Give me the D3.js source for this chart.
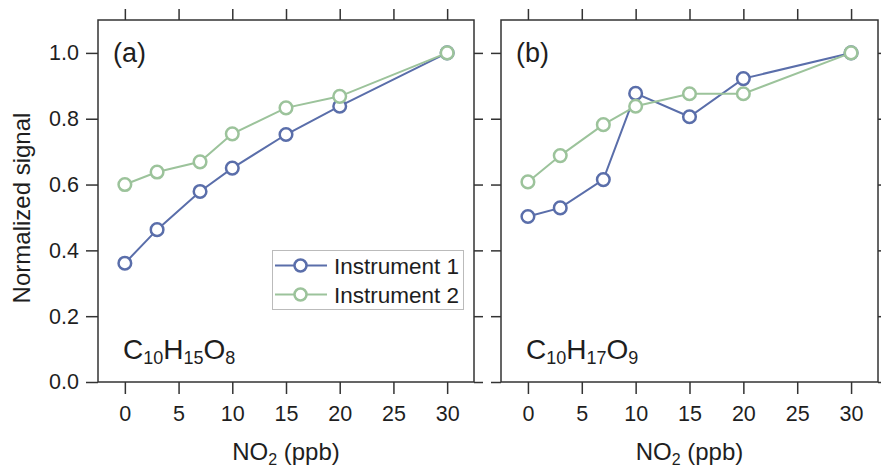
<!DOCTYPE html>
<html><head><meta charset="utf-8">
<script src="https://cdn.jsdelivr.net/npm/d3@7"></script>
<style>body{margin:0;background:#fff}svg{display:block}text{font-family:"Liberation Sans",Arial,sans-serif;fill:#1e1e1e}</style>
</head><body><svg id="c" width="881" height="470"></svg>
<script>
const xValues = [0, 3, 7, 10, 15, 20, 30];
const seriesNames = ["Instrument 1", "Instrument 2"];
const panelA_inst1 = [0.361, 0.463, 0.579, 0.650, 0.752, 0.838, 1.0];
const panelA_inst2 = [0.600, 0.638, 0.669, 0.754, 0.833, 0.868, 1.0];
const panelB_inst1 = [0.503, 0.529, 0.615, 0.877, 0.806, 0.922, 1.0];
const panelB_inst2 = [0.608, 0.688, 0.782, 0.838, 0.876, 0.876, 1.0];
const xTicks = [0, 5, 10, 15, 20, 25, 30];
const yTicks = [0.0, 0.2, 0.4, 0.6, 0.8, 1.0];
const panelLabels = ["(a)", "(b)"];
const formulas = [[["C",""],["10","s"],["H",""],["15","s"],["O",""],["8","s"]],
                  [["C",""],["10","s"],["H",""],["17","s"],["O",""],["9","s"]]];

const colors = ["#5a6eaa", "#9cc39b"];
const svg = d3.select("#c");
const plotTop = 20, plotBottom = 382;
const y = d3.scaleLinear().domain([0, 1.1]).range([plotBottom, plotTop]);
const panels = [
  {left: 98, right: 474, series: [panelA_inst1, panelA_inst2], label: panelLabels[0], formula: formulas[0], yLabels: true, legend: true},
  {left: 501, right: 878, series: [panelB_inst1, panelB_inst2], label: panelLabels[1], formula: formulas[1], yLabels: false, legend: false}
];
const axisColor = "#333";

function styleAxis(g) {
  g.select(".domain").remove();
  g.selectAll(".tick line").attr("stroke", axisColor).attr("stroke-width", 1.5);
  g.selectAll(".tick text").attr("fill", "#1e1e1e").style("font-size", "21.5px").attr("font-family", null);
}

panels.forEach(p => {
  const x = d3.scaleLinear().domain([-2.5, 32.5]).range([p.left, p.right]);
  const g = svg.append("g");
  g.append("g").attr("transform", `translate(0,${plotBottom})`)
    .call(d3.axisBottom(x).tickValues(xTicks).tickSize(12).tickPadding(12).tickSizeOuter(0))
    .call(styleAxis);
  g.append("g").attr("transform", `translate(0,${plotTop})`)
    .call(d3.axisTop(x).tickValues(xTicks).tickSize(11).tickFormat("").tickSizeOuter(0))
    .call(styleAxis);
  g.append("g").attr("transform", `translate(${p.left},0)`)
    .call(d3.axisLeft(y).tickValues(yTicks).tickSize(p.yLabels ? 12 : 10).tickPadding(7)
      .tickFormat(p.yLabels ? d3.format(".1f") : "").tickSizeOuter(0))
    .call(styleAxis);
  g.append("g").attr("transform", `translate(${p.right},0)`)
    .call(d3.axisRight(y).tickValues(yTicks).tickSize(9).tickFormat("").tickSizeOuter(0))
    .call(styleAxis);
  g.append("rect").attr("x", p.left).attr("y", plotTop).attr("width", p.right - p.left).attr("height", plotBottom - plotTop)
    .attr("fill", "none").attr("stroke", axisColor).attr("stroke-width", 1.5);

  const line = d3.line().x((d, i) => x(xValues[i])).y(d => y(d));
  p.series.forEach((s, si) => {
    g.append("path").datum(s).attr("d", line).attr("fill", "none")
      .attr("stroke", colors[si]).attr("stroke-width", 2);
  });
  p.series.forEach((s, si) => {
    g.selectAll(null).data(s).enter().append("circle")
      .attr("cx", (d, i) => x(xValues[i])).attr("cy", d => y(d)).attr("r", 6.3)
      .attr("fill", "#fff").attr("stroke", colors[si]).attr("stroke-width", 2.5);
  });

  g.append("text").attr("x", p.left + 15).attr("y", 62).style("font-size", "27px").text(p.label);
  const ft = g.append("text").attr("x", p.left + 25).attr("y", 359).style("font-size", "28px");
  p.formula.forEach(([t, k]) => {
    ft.append("tspan").text(t).style("font-size", k ? "18px" : "28px")
      .attr("dy", k ? 5 : (t === "C" ? 0 : -5));
  });
  const xt = g.append("text").attr("x", (p.left + p.right) / 2).attr("y", 460)
    .attr("text-anchor", "middle").style("font-size", "24px");
  xt.append("tspan").text("NO");
  xt.append("tspan").text("2").style("font-size", "16px").attr("dy", 5);
  xt.append("tspan").text(" (ppb)").attr("dy", -5);

  if (p.legend) {
    const lg = g.append("g");
    lg.append("rect").attr("x", 272.5).attr("y", 250.5).attr("width", 191).attr("height", 59)
      .attr("fill", "#fff").attr("stroke", "#bbb").attr("stroke-width", 1);
    seriesNames.forEach((n, i) => {
      const yy = 265.5 + i * 29;
      lg.append("line").attr("x1", 275).attr("x2", 327).attr("y1", yy).attr("y2", yy)
        .attr("stroke", colors[i]).attr("stroke-width", 2);
      lg.append("circle").attr("cx", 300.5).attr("cy", yy).attr("r", 6)
        .attr("fill", "#fff").attr("stroke", colors[i]).attr("stroke-width", 2.5);
      lg.append("text").attr("x", 334).attr("y", yy + 8).style("font-size", "22.5px").text(n);
    });
  }
});

svg.append("text").attr("transform", "translate(30,208) rotate(-90)").attr("text-anchor", "middle")
  .style("font-size", "24px").text("Normalized signal");
</script></body></html>
